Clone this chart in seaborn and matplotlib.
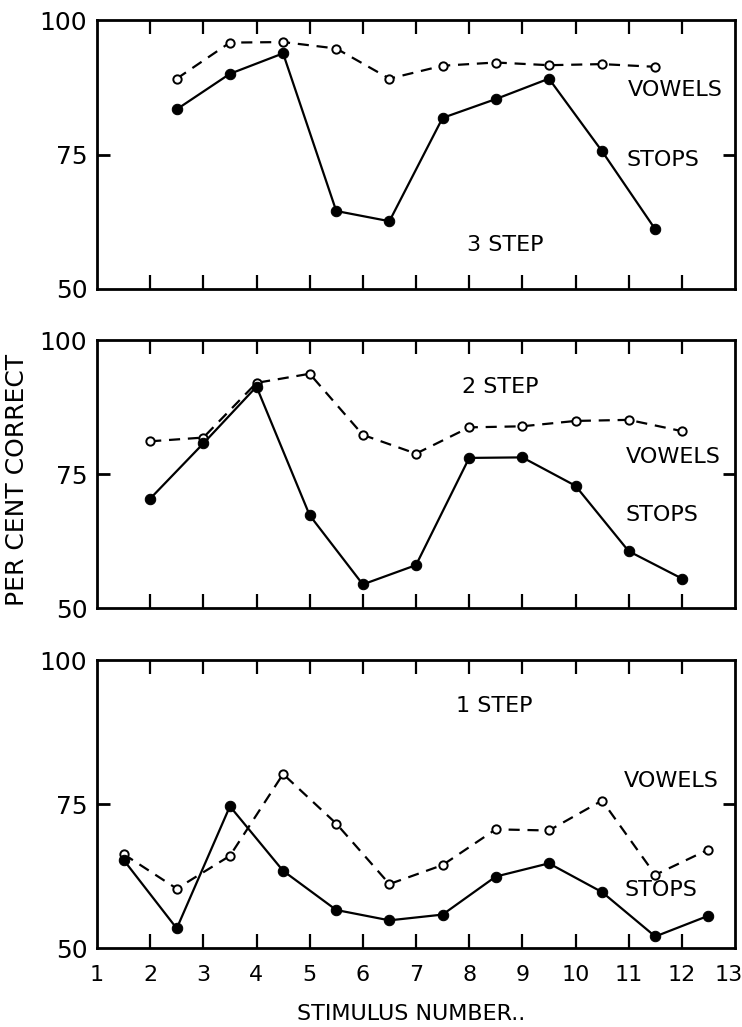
import numpy as np
import pandas as pd
import matplotlib
matplotlib.use("Agg")
import matplotlib.pyplot as plt
import matplotlib.transforms as mtransforms
import seaborn as sns

# ---- data ----
x_half_3 = [2.5, 3.5, 4.5, 5.5, 6.5, 7.5, 8.5, 9.5, 10.5, 11.5]
vowels_3 = [89.1, 95.8, 95.9, 94.7, 89.1, 91.5, 92.1, 91.6, 91.8, 91.3]
stops_3 = [83.4, 90.0, 93.8, 64.5, 62.6, 81.8, 85.3, 89.1, 75.6, 61.1]

x_int_2 = [2, 3, 4, 5, 6, 7, 8, 9, 10, 11, 12]
vowels_2 = [81.1, 81.8, 92.0, 93.7, 82.3, 78.8, 83.7, 83.9, 84.9, 85.1, 83.0]
stops_2 = [70.4, 80.7, 91.3, 67.3, 54.4, 58.0, 78.0, 78.1, 72.8, 60.6, 55.5]

x_half_1 = [1.5, 2.5, 3.5, 4.5, 5.5, 6.5, 7.5, 8.5, 9.5, 10.5, 11.5, 12.5]
vowels_1 = [66.3, 60.3, 66.0, 80.2, 71.6, 61.1, 64.4, 70.6, 70.4, 75.6, 62.7, 67.1]
stops_1 = [65.3, 53.4, 74.6, 63.4, 56.6, 54.8, 55.8, 62.4, 64.7, 59.7, 52.0, 55.6]

panel_labels = ["3 STEP", "2 STEP", "1 STEP"]
series_labels = ["VOWELS", "STOPS"]
x_tick_labels = [str(i) for i in range(1, 14)]
y_tick_labels = ["50", "75", "100"]

sns.set_style("ticks")
plt.rcParams['font.family'] = ['DejaVu Sans']
plt.rcParams['text.color'] = 'black'
plt.rcParams['xtick.color'] = 'black'
plt.rcParams['ytick.color'] = 'black'
plt.rcParams['xtick.labelcolor'] = 'black'
plt.rcParams['ytick.labelcolor'] = 'black'

fig = plt.figure(figsize=(7.42, 10.27), dpi=100)

W = 742.0
H = 1027.0
panels = [
    dict(top=20, bottom=289, x=x_half_3, v=vowels_3, s=stops_3,
         step=(8.68, 58.2), vow=(11.88, 87.0), stp=(11.64, 74.0)),
    dict(top=340, bottom=608, x=x_int_2, v=vowels_2, s=stops_2,
         step=(8.59, 91.2), vow=(11.84, 78.2), stp=(11.62, 67.3)),
    dict(top=660, bottom=948, x=x_half_1, v=vowels_1, s=stops_1,
         step=(8.48, 92.0), vow=(11.80, 79.0), stp=(11.60, 60.0)),
]
left_px, right_px = 97, 735

for i, p in enumerate(panels):
    ax = fig.add_axes([left_px / W, 1 - p["bottom"] / H,
                       (right_px - left_px) / W, (p["bottom"] - p["top"]) / H])
    df = pd.DataFrame({"x": p["x"], "v": p["v"], "s": p["s"]})
    sns.lineplot(data=df, x="x", y="v", ax=ax, color="black", linewidth=1.6,
                 linestyle=(0, (5, 3.5)), marker="o", markersize=6,
                 markerfacecolor="white", markeredgecolor="black",
                 markeredgewidth=1.4)
    sns.lineplot(data=df, x="x", y="s", ax=ax, color="black", linewidth=1.6,
                 marker="o", markersize=7.5, markerfacecolor="black",
                 markeredgecolor="black")
    ax.set_xlim(1, 13)
    ax.set_ylim(50, 100)
    ax.set_xlabel("")
    ax.set_ylabel("")
    for sp in ax.spines.values():
        sp.set_visible(True)
        sp.set_linewidth(2.0)
        sp.set_color("black")
    ax.set_xticks(range(2, 13))
    ax.tick_params(axis="x", which="major", direction="in", length=10, width=1.6,
                   top=True, bottom=True, labelbottom=False)
    ax.set_yticks([50, 75, 100])
    ax.set_yticklabels(y_tick_labels)
    ax.tick_params(axis="y", which="major", direction="in", length=9, width=2,
                   left=True, right=True, labelsize=18, pad=7)
    if i == 2:
        ax.set_xticks(range(1, 14))
        ax.set_xticklabels(x_tick_labels)
        ax.tick_params(axis="x", labelbottom=True, labelsize=16, pad=12)
        xt = ax.xaxis.get_major_ticks()
        for t in (xt[0], xt[-1]):
            t.tick1line.set_visible(False)
            t.tick2line.set_visible(False)
        last = ax.get_xticklabels()[-1]
        last.set_transform(last.get_transform() +
                           mtransforms.ScaledTranslation(-6 / 100, 0, fig.dpi_scale_trans))
    ax.text(p["step"][0], p["step"][1], panel_labels[i], ha="center", va="center",
            fontsize=16)
    ax.text(p["vow"][0], p["vow"][1], series_labels[0], ha="center", va="center",
            fontsize=16)
    ax.text(p["stp"][0], p["stp"][1], series_labels[1], ha="center", va="center",
            fontsize=16)
    yt = ax.yaxis.get_major_ticks()
    for t in (yt[0], yt[-1]):
        t.tick1line.set_visible(False)
        t.tick2line.set_visible(False)

fig.text(17 / W, 1 - 480 / H, "PER CENT CORRECT", rotation=90, ha="center",
         va="center", fontsize=18)
fig.text(411 / W, 1 - 1014 / H, "STIMULUS NUMBER..", ha="center", va="center",
         fontsize=16)

fig.savefig("out.png", dpi=100, facecolor="white")
